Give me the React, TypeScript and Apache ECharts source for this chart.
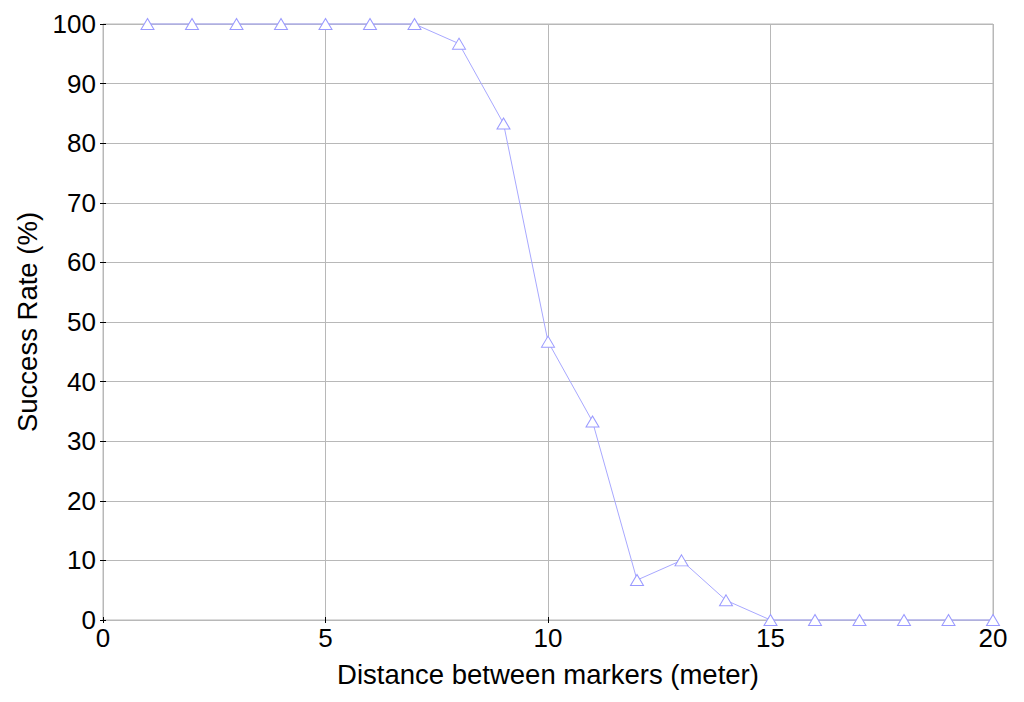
import React, { useEffect, useRef } from "react";
import * as echarts from "echarts";

const distances = [1, 2, 3, 4, 5, 6, 7, 8, 9, 10, 11, 12, 13, 14, 15, 16, 17, 18, 19, 20];
const successRate = [100, 100, 100, 100, 100, 100, 100, 96.7, 83.3, 46.7, 33.3, 6.7, 10, 3.3, 0, 0, 0, 0, 0, 0];
const xTitle = "Distance between markers (meter)";
const yTitle = "Success Rate (%)";

export default function App() {
  const ref = useRef<HTMLDivElement>(null);
  useEffect(() => {
    if (!ref.current) return;
    const chart = echarts.init(ref.current, null, { renderer: "svg" });
    const font = "'Liberation Sans', Arial, sans-serif";
    const gridColor = "#b8b8b8";
    const hiddenAxisBase = {
      axisLine: { show: false },
      axisLabel: { show: false },
      splitLine: { show: false },
      axisTick: { show: true, inside: true, length: 3, lineStyle: { color: "#000", width: 1 } },
    };
    chart.setOption({
      animation: false,
      backgroundColor: "#fff",
      grid: {
        left: 103,
        right: 31,
        top: 24,
        bottom: 82,
        show: true,
        borderColor: gridColor,
        borderWidth: 1,
      },
      xAxis: [
        {
          type: "value",
          min: 0,
          max: 20,
          interval: 5,
          name: xTitle,
          nameLocation: "middle",
          nameGap: 40,
          nameTextStyle: { fontFamily: font, fontSize: 27.5, color: "#000" },
          axisLine: { show: false },
          axisTick: { show: true, inside: true, length: 3, lineStyle: { color: "#000" } },
          axisLabel: { fontFamily: font, fontSize: 26, color: "#000", margin: 5 },
          splitLine: { show: true, lineStyle: { color: gridColor, width: 1 } },
        },
        { type: "value", position: "top", min: 0, max: 20, interval: 5, ...hiddenAxisBase },
      ],
      yAxis: [
        {
          type: "value",
          min: 0,
          max: 100,
          interval: 10,
          name: yTitle,
          nameLocation: "middle",
          nameGap: 60,
          nameTextStyle: { fontFamily: font, fontSize: 27.5, color: "#000" },
          axisLine: { show: false },
          axisTick: { show: true, inside: true, length: 3, lineStyle: { color: "#000" } },
          axisLabel: { fontFamily: font, fontSize: 26, color: "#000", margin: 7 },
          splitLine: { show: true, lineStyle: { color: gridColor, width: 1 } },
        },
        { type: "value", position: "right", min: 0, max: 100, interval: 10, ...hiddenAxisBase },
      ],
      series: [
        {
          type: "line",
          data: distances.map((d, i) => [d, successRate[i]]),
          symbol: "triangle",
          symbolSize: [13, 11],
          showSymbol: true,
          clip: false,
          lineStyle: { color: "#a8a8ff", width: 1 },
          itemStyle: { color: "#fff", borderColor: "#9a9aff", borderWidth: 1 },
        },
      ],
    });
    return () => chart.dispose();
  }, []);
  return <div ref={ref} style={{ width: 1024, height: 702, position: "absolute", left: 0, top: 0 }} />;
}
